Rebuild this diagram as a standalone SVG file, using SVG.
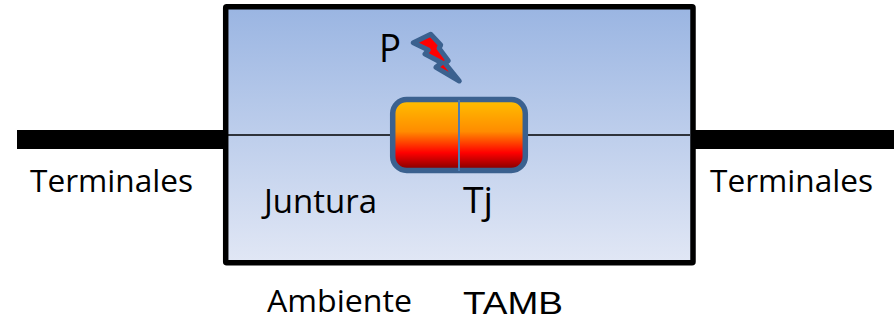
<svg xmlns="http://www.w3.org/2000/svg" width="894" height="321" viewBox="0 0 894 321">
<style>
text{font-family:"Open Sans","Noto Sans","Liberation Sans",sans-serif;fill:#000}
.t{font-size:31px}
.j{font-size:33px}
.a{font-size:31px}
.c{font-size:36px}
.m{font-size:32px;font-family:"Liberation Sans",sans-serif}
.w{stroke:#000;fill:none}
</style>
<defs>
<linearGradient id="bg" x1="0" y1="0" x2="0" y2="1"><stop offset="0" stop-color="#9ab5e2"/><stop offset="1" stop-color="#e1e7f5"/></linearGradient>
<linearGradient id="hot" x1="0" y1="0" x2="0" y2="1"><stop offset="0" stop-color="#ffc000"/><stop offset=".45" stop-color="#ff8c00"/><stop offset=".75" stop-color="#ff0000"/><stop offset="1" stop-color="#7a0000"/></linearGradient>
</defs>
<rect width="894" height="321" fill="#fff"/>
<g id="ambiente"><rect x="225.700" y="6.800" width="467.300" height="256" rx="1" fill="url(#bg)" stroke="#000" stroke-width="5.500"/></g>
<g id="connectors">
<rect x="17" y="130" width="206" height="19" fill="#000"/>
<rect x="695" y="130" width="199" height="19" fill="#000"/>
<path class="w" d="M228 135H392M526 135H690" stroke-width="1.500"/>
</g>
<g id="juntura">
<rect x="392.700" y="99.500" width="132.600" height="71" rx="14" fill="url(#hot)" stroke="#3b618f" stroke-width="5.500"/>
<path d="M459 100V171" stroke="#4a7db5" stroke-width="2"/>
</g>
<g id="rayo"><path d="M413.300 42.700L430.700 34.300L440.700 45L439 48.300L448.300 60.700L445 63.300L459.300 81L436 67.300L441.700 62.700L425 54L428.300 50Z" fill="#ff0000" stroke="#3b618f" stroke-width="5" stroke-linejoin="round"/></g>
<g id="labels">
<text x="379" y="62" font-size="39" textLength="22" lengthAdjust="spacingAndGlyphs">P</text>
<text class="t" x="30" y="192" textLength="163" lengthAdjust="spacingAndGlyphs">Terminales</text>
<text class="t" x="710" y="192" textLength="163" lengthAdjust="spacingAndGlyphs">Terminales</text>
<text class="j" x="264" y="212.500" textLength="113" lengthAdjust="spacingAndGlyphs">Juntura</text>
<text class="c" x="463" y="213" textLength="30" lengthAdjust="spacingAndGlyphs">Tj</text>
<text class="a" x="267" y="312" textLength="145" lengthAdjust="spacingAndGlyphs">Ambiente</text>
<text class="m" x="463" y="314" textLength="100" lengthAdjust="spacingAndGlyphs">TAMB</text>
</g>
</svg>
